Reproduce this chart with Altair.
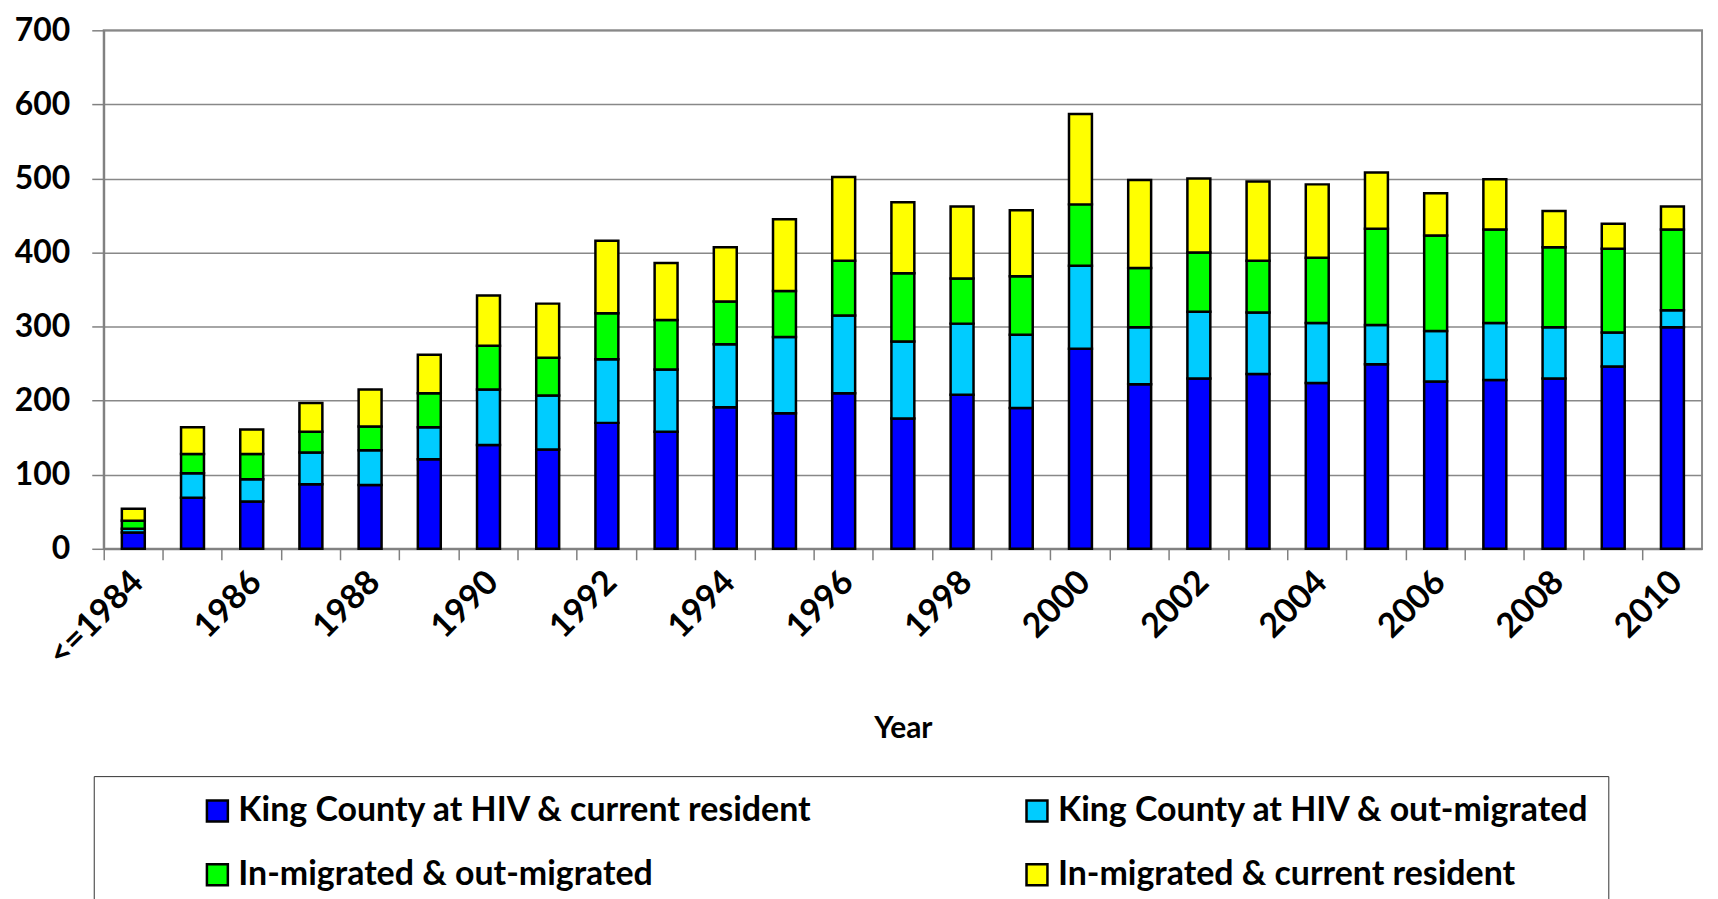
import altair as alt
import pandas as pd

categories = ["<=1984"] + [str(y) for y in range(1985, 2011)]

kc_current = [22, 69, 64, 87, 86, 121, 140, 134, 170, 158, 191, 183, 210, 176, 208, 190, 270, 222, 230, 236, 224, 249, 226, 228, 230, 246, 299]
kc_out = [5, 33, 30, 43, 47, 43, 75, 73, 86, 84, 85, 103, 105, 104, 96, 99, 112, 77, 90, 83, 81, 53, 68, 77, 69, 46, 23]
in_out = [11, 26, 34, 28, 32, 46, 59, 51, 62, 67, 58, 62, 74, 92, 61, 79, 83, 80, 80, 70, 88, 130, 129, 126, 108, 113, 109]
in_current = [16, 36, 33, 39, 50, 52, 68, 73, 98, 77, 73, 97, 113, 96, 97, 89, 122, 119, 100, 107, 99, 76, 57, 68, 49, 34, 31]

series_names = [
    "King County at HIV & current resident",
    "King County at HIV & out-migrated",
    "In-migrated & out-migrated",
    "In-migrated & current resident",
]
series_colors = ["#0000FF", "#00CCFF", "#00FF00", "#FFFF00"]
series_values = [kc_current, kc_out, in_out, in_current]

rows = []
for si, (name, vals) in enumerate(zip(series_names, series_values)):
    for cat, v in zip(categories, vals):
        rows.append({"Year": cat, "Series": name, "Value": v, "ord": si})
df = pd.DataFrame(rows)

FONT = "Lato"
TOP = 21
W, H = 1603, 520
step = W / len(categories)

chart = alt.Chart(df).mark_bar(
    size=23, stroke="black", strokeWidth=2.5
).encode(
    x=alt.X(
        "Year:N",
        sort=categories,
        scale=alt.Scale(paddingInner=0, paddingOuter=0),
        axis=alt.Axis(
            title="Year",
            titleFont=FONT, titleFontSize=30, titleFontWeight="bold", titleColor="black",
            titlePadding=42,
            labelFont=FONT, labelFontSize=34, labelFontWeight="bold", labelColor="black",
            labelAngle=-45, labelAlign="right", labelBaseline="middle",
            labelOffset=step / 2 - 25, labelPadding=17,
            labelExpr="(datum.value == '<=1984' || toNumber(datum.value) % 2 == 0) ? datum.value : ''",
            bandPosition=0, ticks=True, tickSize=11, tickColor="#808080", tickWidth=1.5,
            domainColor="#808080", domainWidth=2, grid=False, labelOverlap=False,
        ),
    ),
    y=alt.Y(
        "Value:Q",
        stack="zero",
        scale=alt.Scale(domain=[0, 700], nice=False),
        axis=alt.Axis(
            title=None, values=list(range(0, 701, 100)),
            labelFont=FONT, labelFontSize=32, labelFontWeight="bold", labelColor="black",
            labelPadding=22, tickSize=12, tickColor="#808080", tickWidth=1.5,
            domainColor="#808080", domainWidth=2,
            grid=True, gridColor="#888888", gridWidth=1.5,
        ),
    ),
    color=alt.Color(
        "Series:N",
        scale=alt.Scale(domain=series_names, range=series_colors),
        legend=alt.Legend(
            title=None, orient="none", legendX=-10, legendY=753 - (TOP - 16),
            direction="horizontal",
            columns=2, columnPadding=118, rowPadding=30,
            symbolType="square", symbolSize=441, symbolStrokeColor="black",
            symbolStrokeWidth=2.5, symbolOffset=89,
            labelFont=FONT, labelFontSize=34, labelFontWeight="bold", labelColor="black",
            labelOffset=4, labelLimit=800,
            padding=18, strokeColor="#333333", fillColor="white",
        ),
    ),
    order=alt.Order("ord:Q", sort="ascending"),
).properties(
    width=W, height=H,
    autosize=alt.AutoSizeParams(type="none"),
    padding={"left": 96, "top": TOP, "right": 8, "bottom": 400},
).configure_view(
    stroke="#8c8c8c", strokeWidth=2
)

chart.save("out.html", embed_options={"renderer": "svg", "actions": False})
